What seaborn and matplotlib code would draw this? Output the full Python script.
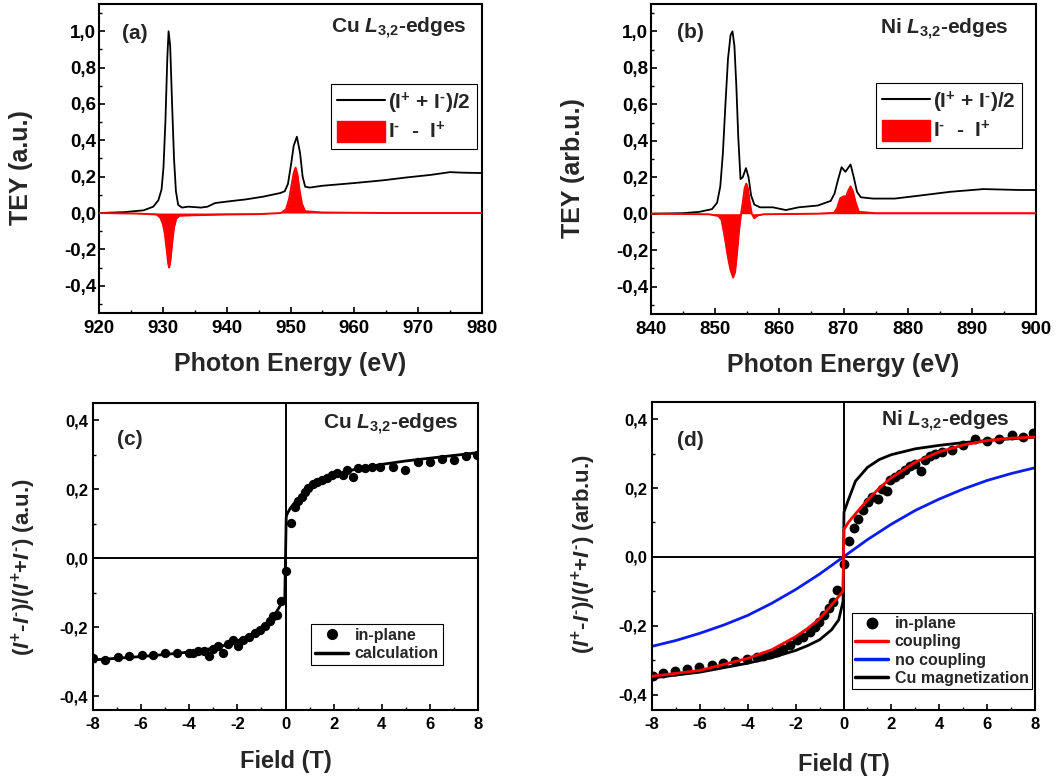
import matplotlib
matplotlib.use("Agg")
import matplotlib.pyplot as plt
import matplotlib.ticker as mticker
from matplotlib.lines import Line2D
from matplotlib.patches import Patch
import numpy as np
import pandas as pd
import seaborn as sns

# --- (a) Cu L-edge spectra ---
cu_avg_E = [920, 924, 927, 928.5, 929.3, 929.8, 930.1, 930.4, 930.7, 930.9, 931.15, 931.45,
            931.75, 932.05, 932.4, 933, 934, 936, 937, 938.2, 940.5, 943, 945.7, 948.4, 949.1,
            949.6, 950.1, 950.5, 951.0, 951.5, 951.9, 952.3, 953, 955, 960, 964.5, 968, 972,
            975, 977, 980]
cu_avg = [0.0, 0.005, 0.015, 0.035, 0.07, 0.13, 0.25, 0.5, 0.85, 1.0, 0.92, 0.6,
          0.3, 0.12, 0.045, 0.03, 0.035, 0.03, 0.035, 0.055, 0.065, 0.075, 0.09, 0.11, 0.12,
          0.16, 0.27, 0.37, 0.42, 0.33, 0.2, 0.145, 0.14, 0.15, 0.165, 0.18, 0.195, 0.21,
          0.225, 0.222, 0.22]
cu_dif_E = [920, 926, 929.0, 929.6, 930.0, 930.3, 930.6, 930.85, 931.0, 931.2, 931.45, 931.75,
            932.1, 932.6, 935, 940, 945, 948.5, 949.3, 949.8, 950.2, 950.5, 950.8, 951.1,
            951.4, 951.8, 952.3, 955, 965, 980]
cu_dif = [0.0, -0.003, -0.008, -0.025, -0.06, -0.11, -0.2, -0.28, -0.30, -0.26, -0.17, -0.08,
          -0.03, -0.015, -0.012, -0.008, -0.006, 0.0, 0.02, 0.08, 0.16, 0.22, 0.25, 0.21,
          0.13, 0.05, 0.01, 0.003, 0.0, 0.0]

# --- (b) Ni L-edge spectra ---
ni_avg_E = [840, 845, 847.5, 849.5, 850.3, 850.8, 851.2, 851.6, 852.0, 852.4, 852.7, 853.0,
            853.3, 853.6, 853.95, 854.3, 854.8, 855.2, 855.6, 856.1, 857, 859, 861, 863, 866,
            868, 868.6, 869.1, 869.7, 870.3, 871.1, 871.6, 872.1, 872.7, 874.6, 878, 882,
            886.6, 891.8, 897.5, 900]
ni_avg = [0.0, 0.003, 0.01, 0.025, 0.06, 0.15, 0.33, 0.6, 0.85, 0.98, 1.0, 0.92,
          0.7, 0.42, 0.19, 0.2, 0.25, 0.2, 0.1, 0.05, 0.035, 0.035, 0.02, 0.035, 0.045,
          0.07, 0.11, 0.18, 0.255, 0.23, 0.27, 0.2, 0.12, 0.09, 0.083, 0.083, 0.1,
          0.12, 0.135, 0.13, 0.13]
ni_dif_E = [840, 849, 850.5, 851.0, 851.5, 852.0, 852.4, 852.8, 853.1, 853.4, 853.7, 854.0,
            854.3, 854.6, 854.85, 855.1, 855.4, 855.7, 856.1, 856.6, 857.5, 866, 868.5, 869.0,
            869.5, 870.0, 870.4, 870.8, 871.1, 871.5, 871.9, 872.4, 875, 900]
ni_dif = [0.0, -0.003, -0.012, -0.035, -0.13, -0.24, -0.31, -0.35, -0.32, -0.22, -0.1, -0.01,
          0.06, 0.14, 0.165, 0.14, 0.06, 0.0, -0.025, -0.01, -0.003, 0.0, 0.005, 0.03,
          0.085, 0.095, 0.095, 0.13, 0.15, 0.12, 0.06, 0.01, 0.003, 0.003]

# --- (c) Cu hysteresis ---
field_c = [-7.99, -7.5, -6.95, -6.49, -5.98, -5.5, -5.01, -4.5, -4.01, -3.83, -3.62, -3.4, -3.2,
           -3.0, -2.79, -2.58, -2.38, -2.19, -1.96, -1.75, -1.5, -1.27, -1.06, -0.85, -0.64,
           -0.5, -0.37, -0.2, 0.02, 0.21, 0.39, 0.53, 0.67, 0.81, 0.95, 1.13, 1.3, 1.5, 1.71,
           1.92, 2.13, 2.4, 2.54, 2.82, 3.03, 3.3, 3.58, 3.93, 4.48, 4.97, 5.52, 6.01, 6.5,
           7.0, 7.5, 7.94]
mag_c = [-0.289, -0.296, -0.286, -0.284, -0.282, -0.281, -0.276, -0.276, -0.274, -0.274, -0.269,
         -0.269, -0.284, -0.263, -0.255, -0.276, -0.25, -0.238, -0.255, -0.238, -0.228, -0.216,
         -0.207, -0.197, -0.183, -0.168, -0.166, -0.125, -0.038, 0.103, 0.149, 0.165, 0.178,
         0.191, 0.204, 0.214, 0.22, 0.226, 0.233, 0.24, 0.247, 0.24, 0.257, 0.236, 0.262,
         0.262, 0.264, 0.264, 0.265, 0.257, 0.278, 0.28, 0.288, 0.286, 0.296, 0.298]
calc_F = [-8, -7, -6, -5, -4, -3, -2.5, -2, -1.5, -1, -0.7, -0.5, -0.2, -0.08, -0.03, 0.03,
          0.08, 0.2, 0.4, 0.7, 1, 1.5, 2, 2.5, 3, 4, 5, 6, 7, 8]
calc_c = [-0.295, -0.29, -0.285, -0.279, -0.272, -0.261, -0.252, -0.24, -0.224, -0.205, -0.188,
          -0.17, -0.135, -0.12, -0.115, 0.12, 0.13, 0.145, 0.163, 0.183, 0.198, 0.222, 0.238,
          0.25, 0.26, 0.272, 0.282, 0.29, 0.298, 0.306]

# --- (d) Ni hysteresis ---
field_d = [-7.97, -7.53, -7.04, -6.52, -6.02, -5.5, -5.02, -4.53, -4.04, -3.63, -3.35, -3.07,
           -2.79, -2.51, -2.23, -1.95, -1.68, -1.4, -1.19, -1.01, -0.81, -0.59, -0.45, -0.26,
           0.03, 0.24, 0.44, 0.62, 0.83, 1.04, 1.18, 1.46, 1.6, 1.83, 1.94, 2.15, 2.36, 2.57,
           2.78, 2.99, 3.22, 3.4, 3.61, 3.82, 4.1, 4.52, 5.0, 5.49, 5.98, 6.51, 7.03, 7.51, 7.93]
mag_d = [-0.347, -0.337, -0.332, -0.325, -0.321, -0.313, -0.308, -0.303, -0.297, -0.292, -0.288,
         -0.282, -0.276, -0.268, -0.256, -0.243, -0.232, -0.217, -0.203, -0.188, -0.169, -0.15,
         -0.13, -0.097, -0.021, 0.046, 0.085, 0.111, 0.135, 0.159, 0.174, 0.169, 0.198, 0.191,
         0.222, 0.232, 0.241, 0.253, 0.263, 0.269, 0.249, 0.282, 0.292, 0.3, 0.304, 0.311,
         0.324, 0.343, 0.336, 0.343, 0.353, 0.348, 0.359]
fit_F = [-8, -6, -4, -3, -2, -1.5, -1, -0.5, -0.2, -0.02, 0.02, 0.2, 0.5, 1, 1.5, 2, 3, 4, 5,
         6, 7, 8]
coupling_d = [-0.347, -0.33, -0.295, -0.27, -0.232, -0.208, -0.18, -0.14, -0.115, -0.1, 0.08,
              0.1, 0.125, 0.165, 0.2, 0.23, 0.275, 0.305, 0.325, 0.338, 0.345, 0.348]
cumag_d = [-0.352, -0.335, -0.309, -0.293, -0.272, -0.258, -0.241, -0.212, -0.183, -0.13, 0.13,
           0.165, 0.22, 0.26, 0.283, 0.297, 0.314, 0.324, 0.332, 0.338, 0.343, 0.348]
blue_F = [-8, -7, -6, -5, -4, -3, -2, -1, 0, 1, 2, 3, 4, 5, 6, 7, 8]
nocoupling_d = [-0.26, -0.243, -0.222, -0.198, -0.17, -0.135, -0.095, -0.05, 0.0, 0.05, 0.095,
                0.135, 0.168, 0.197, 0.222, 0.242, 0.259]

sns.set_theme(style="ticks")
plt.rcParams.update({
    "font.family": ["Liberation Sans", "DejaVu Sans"],
    "font.weight": "bold",
    "axes.labelweight": "bold",
    "axes.unicode_minus": False,
    "mathtext.fontset": "custom",
    "mathtext.rm": "Liberation Sans:bold",
    "mathtext.it": "Liberation Sans:italic:bold",
    "mathtext.bf": "Liberation Sans:bold",
    "axes.linewidth": 1.5,
    "axes.edgecolor": "black",
})

fig = plt.figure(figsize=(10.57, 7.8), dpi=100)
W, H = 1057, 780


def box(l, r, t, b):
    return [l / W, 1 - b / H, (r - l) / W, (b - t) / H]


ax_a = fig.add_axes(box(99, 482, 4, 313))
ax_b = fig.add_axes(box(651, 1036, 4, 314))
ax_c = fig.add_axes(box(93, 478, 403, 710))
ax_d = fig.add_axes(box(652, 1035, 402, 710))

comma = mticker.FuncFormatter(lambda v, p: f"{round(v, 2) + 0.0:.1f}".replace(".", ","))
edge = r" $L_{3{,}2}$-edges"
sup_m = r"$^{\text{-}}$"
sup_p = r"$^{+}$"


def style(ax, fs):
    ax.tick_params(which="both", direction="in", top=False, right=False, colors="black",
                   labelsize=fs)
    ax.tick_params(which="major", length=4, width=1.2)
    ax.tick_params(which="minor", length=2.5, width=1.0)
    for lab in ax.get_xticklabels() + ax.get_yticklabels():
        lab.set_fontweight("bold")
    for s in ax.spines.values():
        s.set_visible(True)
        s.set_linewidth(1.5)


# spectra panels
spectra = [
    (ax_a, cu_avg_E, cu_avg, cu_dif_E, cu_dif, (920, 980), "TEY (a.u.)", "(a)", "Cu",
     (0.987, 0.741), 0.06, 0.886, 0.961, 0.905),
    (ax_b, ni_avg_E, ni_avg, ni_dif_E, ni_dif, (840, 900), "TEY (arb.u.)", "(b)", "Ni",
     (0.964, 0.745), 0.068, 0.89, 0.93, 0.902),
]
for ax, xe, ya, xd, yd, xl, ylab, tag, el, lpos, tx, ty, ex, ey in spectra:
    sns.lineplot(x=xe, y=ya, ax=ax, color="black", lw=1.3, zorder=3)
    ax.fill_between(xd, yd, 0, color="red", lw=0, zorder=4)
    sns.lineplot(x=xd, y=yd, ax=ax, color="red", lw=1.4, zorder=5)
    ax.set_xlim(*xl)
    ax.set_ylim(-0.55, 1.15)
    ax.xaxis.set_major_locator(mticker.MultipleLocator(10))
    ax.xaxis.set_minor_locator(mticker.MultipleLocator(5))
    ax.yaxis.set_major_locator(mticker.FixedLocator([-0.4, -0.2, 0.0, 0.2, 0.4, 0.6, 0.8, 1.0]))
    ax.yaxis.set_minor_locator(mticker.MultipleLocator(0.1))
    ax.yaxis.set_major_formatter(comma)
    style(ax, 13.5)
    ax.tick_params(axis="y", pad=2)
    ax.tick_params(axis="x", pad=5)
    ax.set_xlabel("Photon Energy (eV)", fontsize=18, fontweight="bold", va="top")
    ax.xaxis.set_label_coords(0.5, -0.126)
    ax.set_ylabel(ylab, fontsize=18, fontweight="bold")
    ax.yaxis.set_label_coords(-0.172, 0.47)
    ax.text(tx, ty, tag, transform=ax.transAxes, fontsize=15, fontweight="bold")
    ax.text(ex, ey, el + edge, transform=ax.transAxes, fontsize=15,
            fontweight="bold", ha="right", va="baseline")
    handles = [Line2D([], [], color="black", lw=1.5),
               Patch(facecolor="red", edgecolor="red")]
    leg = ax.legend(handles, ["(I" + sup_p + " + I" + sup_m + ")/2", "I" + sup_m + "  -  I" + sup_p],
                    loc="upper right", bbox_to_anchor=lpos, borderaxespad=0,
                    fontsize=15, frameon=True, fancybox=False, edgecolor="black",
                    framealpha=1, handlelength=2.3, handleheight=1.2, handletextpad=0.15,
                    borderpad=0.3, labelspacing=0.25)
    leg.get_frame().set_linewidth(0.8)
    for t in leg.get_texts():
        t.set_fontweight("bold")

ylab_hyst = r"$(I^{+}$-$I^{\text{-}})/(I^{+}$+$I^{\text{-}})$"

# (c) Cu hysteresis
ax = ax_c
ax.axhline(0, color="black", lw=1.4, zorder=1)
ax.axvline(0, color="black", lw=1.4, zorder=1)
sns.scatterplot(x=field_c, y=mag_c, ax=ax, color="black", s=45, edgecolor="black",
                linewidth=0, zorder=3)
sns.lineplot(x=calc_F, y=calc_c, ax=ax, color="black", lw=2.0, zorder=4)
ax.text(0.062, 0.863, "(c)", transform=ax.transAxes, fontsize=15, fontweight="bold")
ax.text(0.951, 0.914, "Cu" + edge, transform=ax.transAxes, fontsize=15,
        fontweight="bold", ha="right", va="baseline")
hc = [Line2D([], [], ls="none", marker="o", ms=7, color="black"),
      Line2D([], [], color="black", lw=2.5)]
leg = ax.legend(hc, ["in-plane", "calculation"], loc="upper right", bbox_to_anchor=(0.909, 0.28),
                borderaxespad=0, fontsize=11.5, fancybox=False, edgecolor="black", framealpha=1,
                handlelength=2.1, handletextpad=0.4, borderpad=0.25, labelspacing=0.2)
leg.get_frame().set_linewidth(0.8)
for t in leg.get_texts():
    t.set_fontweight("bold")
ax.set_ylabel(ylab_hyst + " (a.u.)", fontsize=16, fontweight="bold")
ax.yaxis.set_label_coords(-0.143, 0.466)
ax.set_ylim(-0.44, 0.45)

# (d) Ni hysteresis
ax = ax_d
ax.axhline(0, color="black", lw=1.4, zorder=1)
ax.axvline(0, color="black", lw=1.4, zorder=1)
sns.lineplot(x=blue_F, y=nocoupling_d, ax=ax, color="#0a1cf0", lw=2.0, zorder=2)
sns.scatterplot(x=field_d, y=mag_d, ax=ax, color="black", s=50, edgecolor="black",
                linewidth=0, zorder=3)
sns.lineplot(x=fit_F, y=cumag_d, ax=ax, color="black", lw=2.0, zorder=4)
sns.lineplot(x=fit_F, y=coupling_d, ax=ax, color="red", lw=2.0, zorder=5)
ax.text(0.065, 0.858, "(d)", transform=ax.transAxes, fontsize=15, fontweight="bold")
ax.text(0.935, 0.92, "Ni" + edge, transform=ax.transAxes, fontsize=15,
        fontweight="bold", ha="right", va="baseline")
hd = [Line2D([], [], ls="none", marker="o", ms=7.5, color="black"),
      Line2D([], [], color="red", lw=2.5),
      Line2D([], [], color="#0a1cf0", lw=2.5),
      Line2D([], [], color="black", lw=2.5)]
leg = ax.legend(hd, ["in-plane", "coupling", "no coupling", "Cu magnetization"],
                loc="upper right", bbox_to_anchor=(0.992, 0.315), borderaxespad=0,
                fontsize=11.5, fancybox=False, edgecolor="black", framealpha=1,
                handlelength=2.1, handletextpad=0.4, borderpad=0.2, labelspacing=0.2)
leg.get_frame().set_linewidth(0.8)
for t in leg.get_texts():
    t.set_fontweight("bold")
ax.set_ylabel(ylab_hyst + " (arb.u.)", fontsize=16, fontweight="bold")
ax.yaxis.set_label_coords(-0.141, 0.505)
ax.set_ylim(-0.445, 0.45)

for ax in (ax_c, ax_d):
    ax.set_xlim(-8, 8)
    ax.xaxis.set_major_locator(mticker.MultipleLocator(2))
    ax.xaxis.set_minor_locator(mticker.MultipleLocator(1))
    ax.yaxis.set_major_locator(mticker.FixedLocator([-0.4, -0.2, 0.0, 0.2, 0.4]))
    ax.yaxis.set_minor_locator(mticker.MultipleLocator(0.1))
    ax.yaxis.set_major_formatter(comma)
    style(ax, 12)
    ax.tick_params(axis="y", pad=3.5)
    ax.tick_params(axis="x", pad=5)
    ax.set_xlabel("Field (T)", fontsize=17, fontweight="bold", va="top")
ax_c.xaxis.set_label_coords(0.5, -0.13)
ax_d.xaxis.set_label_coords(0.5, -0.14)

fig.savefig("out.png", dpi=100)
